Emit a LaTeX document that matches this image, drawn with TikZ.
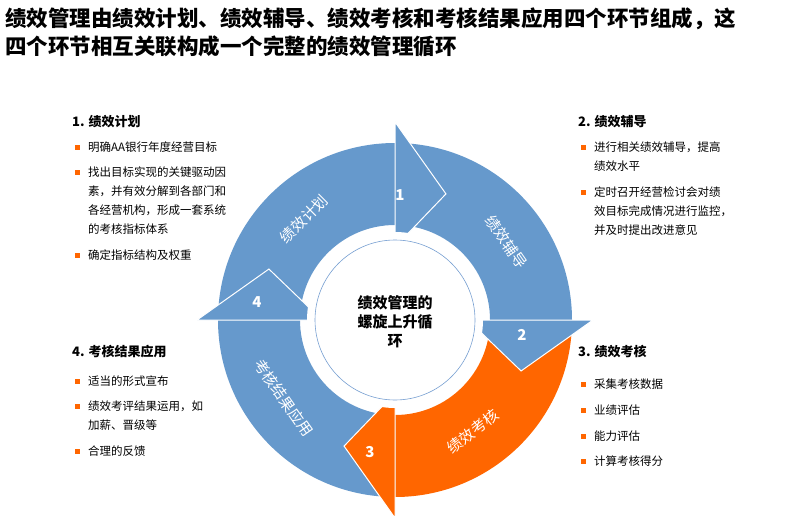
\documentclass[tikz,border=0pt]{standalone}
\usepackage{fontspec}
\usetikzlibrary{calc}
\setmainfont{Noto Sans CJK SC}
\definecolor{cblue}{RGB}{102,153,204}
\definecolor{corange}{RGB}{255,102,0}
\definecolor{ringline}{RGB}{120,160,210}
\begin{document}
\begin{tikzpicture}[x=1pt,y=1pt,
  title/.style={anchor=west,font=\fontsize{21.5}{24}\selectfont\bfseries,inner sep=0},
  head/.style={anchor=west,font=\fontsize{13}{15}\selectfont\bfseries,inner sep=0},
  item/.style={anchor=west,font=\fontsize{11.5}{13}\selectfont,inner sep=0},
  arrtxt/.style={text=white,font=\fontsize{15}{17}\selectfont,inner sep=0},
  num/.style={text=white,font=\fontsize{15}{17}\selectfont\bfseries,inner sep=0}]
\useasboundingbox (0,-516) rectangle (800,0);
\newcommand{\bul}[2]{\fill[corange] (#1-2.5,#2-2.5) rectangle ++(5,5);}
% title
\node[title] (t1) at (5,-19) {绩效管理由绩效计划、绩效辅导、绩效考核和考核结果应用四个环节组成，这};
\node[title] (t2) at (5,-46) {四个环节相互关联构成一个完整的绩效管理循环};
% block 1
\node[head] (h1) at (72,-122) {1. 绩效计划};
\bul{77}{-147}\node[item] at (88,-147) {明确AA银行年度经营目标};
\bul{77}{-172}\node[item] at (88,-172) {找出目标实现的关键驱动因};
\node[item] at (88,-191) {素，并有效分解到各部门和};
\node[item] at (88,-210) {各经营机构，形成一套系统};
\node[item] at (88,-229) {的考核指标体系};
\bul{77}{-255}\node[item] at (88,-255) {确定指标结构及权重};
% block 2
\node[head] (h2) at (578,-122) {2. 绩效辅导};
\bul{583}{-147}\node[item] at (594,-147) {进行相关绩效辅导，提高};
\node[item] at (594,-166) {绩效水平};
\bul{583}{-192}\node[item] at (594,-192) {定时召开经营检讨会对绩};
\node[item] at (594,-211) {效目标完成情况进行监控，};
\node[item] at (594,-230) {并及时提出改进意见};
% block 3
\node[head] (h3) at (578,-352) {3. 绩效考核};
\bul{583}{-384}\node[item] at (594,-384) {采集考核数据};
\bul{583}{-410}\node[item] at (594,-410) {业绩评估};
\bul{583}{-436}\node[item] at (594,-436) {能力评估};
\bul{583}{-461}\node[item] at (594,-461) {计算考核得分};
% block 4
\node[head] (h4) at (72,-352) {4. 考核结果应用};
\bul{77}{-381}\node[item] at (88,-381) {适当的形式宣布};
\bul{77}{-406}\node[item] at (88,-406) {绩效考评结果运用，如};
\node[item] at (88,-425) {加薪、晋级等};
\bul{77}{-451}\node[item] at (88,-451) {合理的反馈};
% cycle
\coordinate (C) at (395,-320);
\def\Ra{95}\def\Rb{177}
\foreach \s/\e/\c in {180/90/cblue, 90/0/cblue, 0/-90/corange, -90/-180/cblue}{
  \fill[\c] ($(C)+(\s:\Rb)$) arc[start angle=\s,end angle=\e,radius=\Rb]
     -- ($(C)+(\e:\Ra)$) arc[start angle=\e,end angle=\s,radius=\Ra] -- cycle;
}
\foreach \e/\c in {90/cblue, 0/cblue, -90/corange, -180/cblue}{
  \filldraw[fill=\c,draw=white,line width=1pt] ($(C)+(\e:73)$) -- ($(C)+(\e:198)$) -- ($(C)+(\e-22:136)$) -- cycle;
}
\fill[white] (C) circle[radius=88];
\draw[ringline,line width=0.6pt] (C) circle[radius=80];
\node[align=center,font=\fontsize{15}{19}\selectfont\bfseries] (ctr) at ($(C)+(0,-2)$) {绩效管理的\\螺旋上升循\\环};
\node[arrtxt,rotate=45] (a1) at ($(C)+(132:136)$) {绩效计划};
\node[arrtxt,rotate=-55] (a2) at ($(C)+(35:136)$) {绩效辅导};
\node[arrtxt,rotate=38] (a3) at ($(C)+(-55:136)$) {绩效考核};
\node[arrtxt,rotate=-55] (a4) at ($(C)+(215:136)$) {考核结果应用};
\node[num] (n1) at (400,-195) {1};
\node[num] (n2) at (522,-335) {2};
\node[num] (n3) at (370,-452) {3};
\node[num] (n4) at (257,-302) {4};
\end{tikzpicture}
\end{document}
